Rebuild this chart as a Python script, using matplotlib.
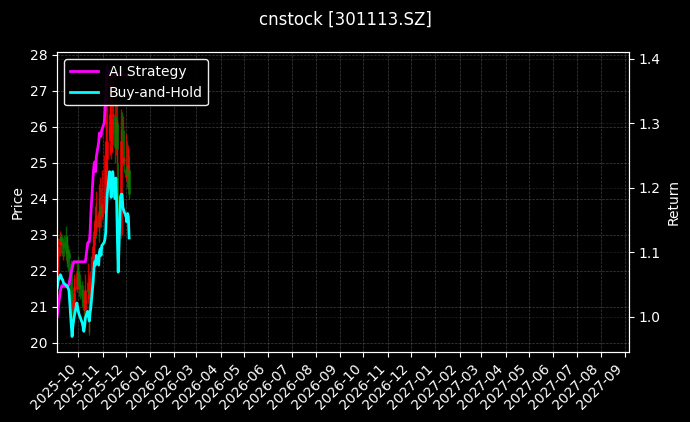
import matplotlib
matplotlib.use("Agg")
import matplotlib.pyplot as plt
import matplotlib.dates as mdates
import pandas as pd
import numpy as np

plt.style.use("dark_background")

dates = pd.bdate_range("2025-09-04", "2025-12-05")

opens = [21.60, 22.40, 22.70, 22.95, 22.80, 22.70, 22.80, 22.95, 22.50, 22.60,
         22.50, 22.50, 22.20, 21.20, 20.90, 21.10, 21.40, 21.50, 22.00, 21.90,
         21.70, 21.60, 21.50, 21.30, 21.20, 20.90, 21.10, 21.40, 21.20, 21.50,
         21.30, 21.60, 21.90, 22.70, 23.10, 23.40, 23.20, 23.60, 23.20, 23.60,
         23.80, 23.50, 23.90, 24.00, 24.10, 24.40, 25.10, 25.60, 25.70, 25.30,
         25.50, 26.30, 26.30, 25.40, 26.10, 24.00, 24.10, 23.00, 25.50, 25.60,
         25.00, 25.10, 24.60, 24.90, 24.60, 24.70, 24.80]
highs = [22.60, 22.90, 23.10, 23.05, 22.95, 22.90, 23.00, 23.25, 22.85, 23.00,
         22.70, 22.60, 22.30, 21.50, 21.40, 21.80, 21.90, 22.30, 22.40, 22.20,
         22.00, 21.90, 21.70, 21.60, 21.40, 21.50, 21.90, 22.20, 21.90, 21.80,
         22.00, 22.40, 23.00, 23.40, 23.80, 23.90, 24.20, 24.00, 24.40, 24.60,
         24.30, 24.80, 25.20, 25.60, 26.20, 26.80, 27.68, 27.50, 27.40, 27.20,
         27.30, 27.50, 26.90, 27.00, 26.80, 26.20, 25.00, 25.90, 26.50, 26.40,
         26.30, 25.90, 25.80, 25.60, 25.50, 25.40, 25.20]
lows = [21.20, 22.10, 22.40, 22.50, 22.40, 22.30, 22.40, 22.30, 22.20, 22.10,
        22.00, 21.90, 21.00, 20.60, 20.70, 21.00, 21.20, 21.40, 21.60, 21.50,
        21.30, 21.20, 21.00, 20.90, 20.50, 20.60, 20.80, 21.10, 20.30, 20.20,
        21.00, 21.40, 21.80, 22.50, 22.90, 22.90, 23.00, 22.80, 23.10, 23.40,
        23.20, 23.40, 23.60, 23.80, 23.90, 24.20, 24.80, 25.20, 25.60, 25.10,
        25.30, 25.80, 25.00, 25.20, 25.00, 23.90, 22.80, 22.90, 25.10, 25.00,
        24.90, 24.70, 24.50, 24.30, 24.40, 24.30, 24.00]
closes = [22.47, 22.68, 22.90, 22.83, 22.75, 22.73, 22.62, 22.55, 22.53, 22.49,
          22.45, 22.36, 21.18, 20.83, 21.18, 21.39, 21.54, 21.95, 21.82, 21.67,
          21.56, 21.50, 21.29, 21.16, 21.01, 21.18, 21.46, 21.67, 21.50, 21.35,
          21.61, 21.82, 22.68, 23.11, 23.33, 23.22, 23.54, 23.22, 23.65, 23.76,
          23.54, 23.87, 23.97, 24.08, 24.30, 25.05, 25.59, 26.34, 26.02, 25.48,
          26.23, 26.34, 25.43, 26.12, 25.37, 24.08, 22.98, 25.48, 25.59, 25.59,
          25.16, 25.05, 24.83, 24.66, 24.94, 24.83, 24.12]

ai_strategy = [1.000, 1.012, 1.040, 1.045, 1.048, 1.047, 1.048, 1.046, 1.048, 1.046,
               1.047, 1.050, 1.070, 1.075, 1.080, 1.085, 1.085, 1.085, 1.085, 1.085,
               1.085, 1.085, 1.085, 1.085, 1.085, 1.085, 1.085, 1.114, 1.116, 1.116,
               1.130, 1.160, 1.220, 1.235, 1.240, 1.225, 1.248, 1.270, 1.285, 1.284,
               1.280, 1.290, 1.300, 1.316, 1.340, 1.370, 1.389, 1.375, 1.375, 1.375,
               1.375, 1.375, 1.375, 1.375, 1.375, 1.375, 1.375, 1.375, 1.375, 1.375,
               1.375, 1.375, 1.375, 1.375, 1.375, 1.375, 1.375]
buy_hold = [1.045, 1.055, 1.065, 1.062, 1.058, 1.057, 1.052, 1.049, 1.048, 1.046,
            1.044, 1.040, 0.985, 0.969, 0.985, 0.995, 1.002, 1.021, 1.015, 1.008,
            1.003, 1.000, 0.990, 0.984, 0.977, 0.985, 0.998, 1.008, 1.000, 0.993,
            1.005, 1.015, 1.055, 1.075, 1.085, 1.080, 1.095, 1.080, 1.100, 1.105,
            1.095, 1.110, 1.115, 1.120, 1.130, 1.165, 1.190, 1.225, 1.210, 1.185,
            1.220, 1.225, 1.183, 1.215, 1.180, 1.120, 1.069, 1.185, 1.190, 1.190,
            1.170, 1.165, 1.155, 1.147, 1.160, 1.155, 1.122]

title = "cnstock [301113.SZ]"

fig = plt.figure(figsize=(6.9, 4.22), dpi=100, facecolor="black")
ax1 = fig.add_axes([0.083, 0.166, 0.8286, 0.7096])
ax1.set_facecolor("black")

o = np.array(opens); c = np.array(closes)
cols = ["red" if cc >= oo else "green" for oo, cc in zip(o, c)]
ax1.vlines(dates, lows, highs, colors=cols, linewidth=1.0, alpha=0.75)
ax1.vlines(dates, opens, closes, colors=cols, linewidth=2.2, alpha=0.75)
ax1.set_ylabel("Price", color="white")
ax1.set_ylim(19.74, 28.06)
ax1.set_yticks([20, 21, 22, 23, 24, 25, 26, 27, 28])
ax1.grid(True, linestyle="--", linewidth=0.5, color="gray", alpha=0.5)

ax2 = ax1.twinx()
ax2.plot(dates, ai_strategy, color="magenta", linewidth=2, label="AI Strategy")
ax2.plot(dates, buy_hold, color="cyan", linewidth=2, label="Buy-and-Hold")
ax2.set_ylabel("Return", color="white")
ax2.set_ylim(0.945, 1.41)
ax2.set_yticks([1.0, 1.1, 1.2, 1.3, 1.4])
ax2.grid(True, axis="y", linestyle="--", linewidth=0.5, color="gray", alpha=0.25)

ax1.set_xlim(pd.Timestamp("2025-09-04"), pd.Timestamp("2027-09-06"))
ax1.xaxis.set_major_locator(mdates.MonthLocator())
ax1.xaxis.set_major_formatter(mdates.DateFormatter("%Y-%m"))
for lbl in ax1.get_xticklabels():
    lbl.set_rotation(45)
    lbl.set_ha("right")

leg = ax2.legend(loc="upper left", facecolor="black", edgecolor="white",
                 framealpha=0.92)
for t in leg.get_texts():
    t.set_color("white")

fig.suptitle(title, color="white", fontsize=12, y=0.975)

fig.savefig("out.png", dpi=100, facecolor="black")
